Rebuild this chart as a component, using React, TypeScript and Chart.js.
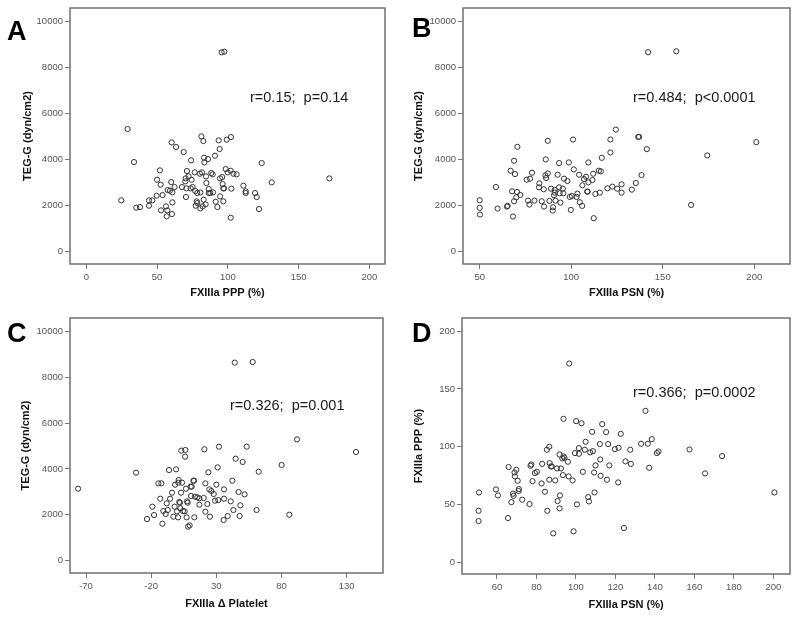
import React, { useEffect, useRef } from "react";
import { Chart, registerables } from "chart.js";

Chart.register(...registerables);

// ---------- Panel A: FXIIIa PPP (%) vs TEG-G ----------
const aPPP = [95.6, 97.5, 29.2, 33.7, 24.7, 35.3, 37.9, 44.3, 44.3, 46.6,
  49.7, 50, 52, 52.5, 53.9, 52.8, 56.3, 57.2, 56.8, 57.5,
  59.1, 60, 60.3, 60.8, 60.8, 60.5, 62.4, 63.4, 67.6, 68.8,
  70.2, 70, 70.4, 70.7, 71.1, 72.3, 73.7, 74, 74.4, 75.1,
  76.6, 77, 77.3, 78, 78.4, 78.4, 80.3, 80.6, 80.6, 81.3,
  81.7, 82.2, 82.7, 82.9, 83.2, 83.4, 84.6, 84.3, 84.8, 86,
  86.5, 86.5, 87.6, 88.3, 89.3, 89.5, 90.9, 91.4, 92.6, 93.5,
  94.2, 94.5, 94.5, 96, 96.3, 96.8, 96.8, 97.3, 98.5, 99.2,
  99.9, 102.2, 102, 102.5, 102, 103.9, 106.2, 111, 112.6, 112.6,
  119.2, 120.4, 122, 123.9, 131, 171.7];
const aTEG = [8640, 8670, 5311, 3878, 2214, 1896, 1925, 1983, 2214, 2214,
  2417, 3111, 3517, 2894, 2446, 1780, 1954, 1780, 1520, 2663,
  2634, 3010, 4732, 2561, 2127, 1621, 2793, 4530, 2793, 4313,
  3169, 3039, 2359, 2735, 3488, 3256, 2735, 3951, 3111, 2793,
  3430, 2619, 1983, 2171, 2533, 2098, 3372, 2561, 1867, 4993,
  3430, 1954, 4790, 2243, 4067, 3864, 3256, 2040, 2967, 4009,
  2706, 2533, 2533, 3401, 3343, 2561, 4153, 2156, 1925, 4819,
  4443, 2388, 3169, 3227, 2923, 2735, 2171, 2735, 3574, 4848,
  3430, 4964, 3502, 2721, 1462, 3372, 3343, 2851, 2605, 2533,
  2533, 2359, 1838, 3835, 2996, 3169];

// ---------- Panel B: FXIIIa PSN (%) vs TEG-G ----------
const bPSN = [50, 50, 50.2, 58.9, 59.8, 64.9, 65.3, 66.9, 67.7, 68.2,
  68.8, 68.8, 69.3, 70.4, 70.6, 70, 72.2, 75.7, 76.4, 77.2,
  77.5, 78.6, 79.9, 82.6, 82.4, 83.9, 85, 85.2, 85.9, 86.1,
  86.3, 87.2, 87.2, 88.1, 89, 90.1, 89.9, 90.6, 91, 91,
  91.4, 92.6, 93.4, 93.4, 93.7, 94.1, 95.4, 95.7, 96.1, 97.9,
  98.7, 99.2, 99.8, 100.3, 101, 101.4, 102.9, 103.4, 104.3, 104.7,
  106, 106.1, 107, 108.1, 108.7, 109, 109.4, 109.4, 111.6, 112,
  112.3, 113.2, 115.1, 115.6, 116.2, 116.7, 119.8, 121.4, 121.4, 122.5,
  124.4, 125.1, 127.5, 127.5, 133.1, 135.3, 136.6, 137.1, 138.4, 141.3,
  142, 157.4, 165.5, 174.3, 201.1];
const bTEG = [2219, 1888, 1599, 2795, 1859, 1945, 1974, 3501, 2608, 1513,
  3934, 2176, 3357, 2579, 4539, 2349, 2450, 3112, 2205, 2032,
  3156, 3415, 2205, 2954, 2781, 2176, 2695, 1945, 3300, 3991,
  3184, 3386, 4798, 2190, 2723, 1916, 1772, 2435, 2666, 2550,
  2205, 3329, 3833, 2781, 2522, 2118, 2723, 2522, 3156, 3055,
  3862, 2363, 1801, 2406, 4856, 3559, 2363, 2507, 3329, 2133,
  1974, 2867, 3141, 3242, 2594, 2594, 3862, 2997, 3098, 3372,
  1441, 2493, 3501, 2550, 3473, 4063, 2738, 4856, 4294, 2810,
  5288, 2723, 2550, 2911, 2680, 2968, 4971, 4971, 3314, 4438,
  8646, 8689, 2017, 4164, 4741];

// ---------- Panel C: FXIIIa Δ Platelet vs TEG-G ----------
const cDelta = [-76.1, -31.6, -23.2, -17.8, -19.1, -14.5, -12.2, -13, -11.4, -10.7,
  -8.9, -7.3, -8.1, -6.3, -5.5, -4, -3, -2, -1.7, -0.9,
  -0.2, 0.6, 0.8, 1.1, 1.6, 2.1, 2.4, 2.9, 3.1, 3.7,
  4.4, 5.7, 6, 6.2, 6.7, 7.2, 7.5, 8, 8.3, 9.5,
  10.3, 10.6, 11.1, 12.4, 12.9, 13.1, 13.6, 15.4, 17, 17,
  20.3, 20.8, 21.6, 21.6, 23.1, 23.9, 24.6, 25.1, 26.2, 28,
  29, 30, 31, 31.5, 32, 35.6, 35.9, 35.9, 38.7, 41,
  42.3, 43.1, 44.1, 44.8, 47.1, 47.9, 48.4, 50.2, 51.7, 53.3,
  57.9, 60.9, 62.5, 80.1, 86, 91.9, 137.2];
const cTEG = [3140, 3837, 1817, 1991, 2355, 3372, 3372, 2703, 1613, 2166,
  2035, 2209, 2500, 3953, 2703, 2965, 1919, 2355, 3314, 3983,
  2151, 1890, 3401, 3517, 2558, 2529, 2282, 2965, 4797, 3401,
  2166, 2151, 4535, 4826, 3140, 1890, 2587, 2529, 1483, 1541,
  3227, 2820, 3227, 3488, 3488, 1890, 2791, 2762, 2718, 2442,
  2733, 4855, 3372, 2137, 2471, 3852, 3110, 1919, 3038, 2907,
  2616, 3314, 4070, 2645, 4971, 1773, 2703, 3110, 1948, 2587,
  3488, 2209, 8634, 4448, 2994, 1948, 2413, 4302, 2892, 4971,
  8663, 2209, 3881, 4172, 2006, 5291, 4738];

// ---------- Panel D: FXIIIa PSN (%) vs FXIIIa PPP (%) ----------
const dPSN = [50.9, 50.7, 50.7, 59.5, 60.5, 65.6, 65.9, 67.3, 68.1, 68.4,
  68.9, 69.1, 69.8, 70.5, 71, 71.1, 72.8, 76.5, 77, 77.4,
  78, 79.2, 80.2, 82.6, 82.9, 84.3, 85.3, 85.5, 86.5, 86.5,
  86.7, 87.3, 87.8, 88.5, 89.5, 90.4, 90.7, 91.7, 91.9, 91.7,
  92.4, 93.1, 93.4, 93.7, 93.7, 94.2, 95.9, 96.3, 96.6, 98.3,
  98.8, 99.5, 100.1, 100.5, 101.5, 101.5, 102.8, 103.5, 104.5, 104.9,
  106.2, 106.6, 107.2, 108.2, 108.6, 109.2, 109.4, 109.9, 112.1, 112.3,
  112.5, 113.3, 115.3, 115.7, 116.3, 116.9, 119.7, 121.6, 121.4, 122.7,
  124.3, 125.1, 127.5, 127.8, 133, 135.2, 136.4, 137.1, 138.4, 141,
  141.8, 157.5, 165.4, 174, 200.5];
const dPPP = [60.3, 44.4, 35.5, 62.9, 57.7, 38.1, 82.3, 51.9, 59.2, 57.4,
  77.6, 74.2, 79.9, 70.4, 61.5, 63.2, 54, 50.2, 83.4, 84.6,
  70.1, 77.1, 78.2, 68.1, 85.1, 60.9, 97.3, 44.4, 99.9, 71.3,
  85.7, 82.8, 82.8, 24.8, 70.7, 81.1, 52.8, 93.2, 57.7, 46.5,
  81.1, 89.8, 75.3, 124.1, 91.5, 90.3, 86.9, 74.2, 172, 70.7,
  26.6, 94.4, 122.1, 49.9, 98.7, 93.8, 120.3, 78.2, 97.3, 104.2,
  56.3, 52.5, 95, 112.8, 96.1, 77.6, 60.3, 83.7, 102.2, 88.9,
  74.7, 119.5, 112.6, 71.3, 102.2, 83.7, 97.8, 99, 69, 111.1,
  29.4, 87.2, 97.3, 85.1, 102.5, 131, 102.5, 81.7, 106.5, 94.4,
  95.8, 97.5, 76.8, 91.8, 60.3];

// ---------- Tick labels ----------
const tegTicks = [0, 2000, 4000, 6000, 8000, 10000];
const aXTicks = [0, 50, 100, 150, 200];
const bXTicks = [50, 100, 150, 200];
const cXTicks = [-70, -20, 30, 80, 130];
const dXTicks = [60, 80, 100, 120, 140, 160, 180, 200];
const dYTicks = [0, 50, 100, 150, 200];

const FONT = '"Liberation Sans", Arial, sans-serif';

type PanelCfg = {
  letter: string; xs: number[]; ys: number[];
  xTitle: string; yTitle: string; xTicks: number[]; yTicks: number[];
  xMin: number; xMax: number; yMin: number; yMax: number; stat: string;
  left: number; top: number; w: number; h: number;
  yAxisW: number; xAxisH: number; padR: number; padT: number;
  yTitlePad: number; xTitlePad: number;
  statX: number; statY: number; letterX: number; letterY: number;
};

const panels: PanelCfg[] = [
  { letter: "A", xs: aPPP, ys: aTEG, xTitle: "FXIIIa PPP (%)", yTitle: "TEG-G (dyn/cm2)",
    xTicks: aXTicks, yTicks: tegTicks, xMin: -11.5, xMax: 211, yMin: -548, yMax: 10566,
    stat: "r=0.15;  p=0.14", left: 0, top: 0, w: 400, h: 310,
    yAxisW: 70, xAxisH: 46, padR: 15, padT: 8, yTitlePad: 21.4, xTitlePad: 10.4,
    statX: 250, statY: 102, letterX: 7, letterY: 40 },
  { letter: "B", xs: bPSN, ys: bTEG, xTitle: "FXIIIa PSN (%)", yTitle: "TEG-G (dyn/cm2)",
    xTicks: bXTicks, yTicks: tegTicks, xMin: 40.9, xMax: 219.5, yMin: -548, yMax: 10566,
    stat: "r=0.484;  p<0.0001", left: 400, top: 0, w: 400, h: 310,
    yAxisW: 63, xAxisH: 46, padR: 10, padT: 8, yTitlePad: 12.4, xTitlePad: 10.4,
    statX: 233, statY: 102, letterX: 12, letterY: 37 },
  { letter: "C", xs: cDelta, ys: cTEG, xTitle: "FXIIIa Δ Platelet", yTitle: "TEG-G (dyn/cm2)",
    xTicks: cXTicks, yTicks: tegTicks, xMin: -82.3, xMax: 157.9, yMin: -536, yMax: 10580,
    stat: "r=0.326;  p=0.001", left: 0, top: 310, w: 400, h: 315,
    yAxisW: 70, xAxisH: 52, padR: 17, padT: 8, yTitlePad: 19.4, xTitlePad: 14.4,
    statX: 230, statY: 100, letterX: 7, letterY: 32 },
  { letter: "D", xs: dPSN, ys: dPPP, xTitle: "FXIIIa PSN (%)", yTitle: "FXIIIa PPP (%)",
    xTicks: dXTicks, yTicks: dYTicks, xMin: 42.3, xMax: 208.4, yMin: -10.4, yMax: 211.5,
    stat: "r=0.366;  p=0.0002", left: 400, top: 310, w: 400, h: 315,
    yAxisW: 62, xAxisH: 51, padR: 10, padT: 8, yTitlePad: 12.4, xTitlePad: 13.4,
    statX: 233, statY: 87, letterX: 12, letterY: 32 },
];

function Panel({ cfg }: { cfg: PanelCfg }) {
  const ref = useRef<HTMLCanvasElement | null>(null);
  useEffect(() => {
    if (!ref.current) return;
    const decor = {
      id: "decor",
      afterDraw(chart: any) {
        const { ctx, chartArea: ca } = chart;
        ctx.save();
        ctx.strokeStyle = "#707070";
        ctx.lineWidth = 1.5;
        ctx.strokeRect(ca.left, ca.top, ca.right - ca.left, ca.bottom - ca.top);
        ctx.fillStyle = "#1a1a1a";
        ctx.font = `14.5px ${FONT}`;
        ctx.textBaseline = "alphabetic";
        ctx.textAlign = "left";
        ctx.fillText(cfg.stat, cfg.statX, cfg.statY);
        ctx.fillStyle = "#000";
        ctx.font = `bold 27px ${FONT}`;
        ctx.fillText(cfg.letter, cfg.letterX, cfg.letterY);
        ctx.restore();
      },
    };
    const tickFont = { family: FONT, size: 9.5 };
    const titleFont = { family: FONT, size: 11, weight: "bold" as const };
    const chart = new Chart(ref.current, {
      type: "scatter",
      data: {
        datasets: [{
          data: cfg.xs.map((x, i) => ({ x, y: cfg.ys[i] })),
          pointRadius: 2.6,
          pointHoverRadius: 2.6,
          pointBorderWidth: 1,
          pointBorderColor: "#333",
          pointBackgroundColor: "rgba(255,255,255,0)",
          showLine: false,
        }],
      },
      options: {
        responsive: false,
        animation: false,
        layout: { padding: { top: cfg.padT, right: cfg.padR, left: 0, bottom: 0 } },
        plugins: { legend: { display: false }, tooltip: { enabled: false } },
        scales: {
          x: {
            type: "linear",
            min: cfg.xMin, max: cfg.xMax,
            afterBuildTicks: (s: any) => { s.ticks = cfg.xTicks.map((v) => ({ value: v })); },
            afterFit: (s: any) => { s.height = cfg.xAxisH; },
            grid: { drawOnChartArea: false, drawTicks: true, tickLength: 5, color: "#777", lineWidth: 1 },
            border: { display: false },
            ticks: { font: tickFont, color: "#555", padding: 3, maxRotation: 0, autoSkip: false,
              callback: (v: any) => String(v) },
            title: { display: true, text: cfg.xTitle, font: titleFont, color: "#111",
              padding: { top: 0, bottom: cfg.xTitlePad } },
          },
          y: {
            type: "linear",
            min: cfg.yMin, max: cfg.yMax,
            afterBuildTicks: (s: any) => { s.ticks = cfg.yTicks.map((v) => ({ value: v })); },
            afterFit: (s: any) => { s.width = cfg.yAxisW; },
            grid: { drawOnChartArea: false, drawTicks: true, tickLength: 5, color: "#777", lineWidth: 1 },
            border: { display: false },
            ticks: { font: tickFont, color: "#555", padding: 2, autoSkip: false,
              callback: (v: any) => String(v) },
            title: { display: true, text: cfg.yTitle, font: titleFont, color: "#111",
              padding: { top: cfg.yTitlePad, bottom: 0 } },
          },
        },
      },
      plugins: [decor],
    });
    return () => chart.destroy();
  }, [cfg]);
  return (
    <canvas
      ref={ref}
      width={cfg.w}
      height={cfg.h}
      style={{ position: "absolute", left: cfg.left, top: cfg.top, width: cfg.w, height: cfg.h }}
    />
  );
}

export default function App() {
  return (
    <div style={{ position: "absolute", left: 0, top: 0, width: 800, height: 625, background: "#fff" }}>
      {panels.map((p) => <Panel key={p.letter} cfg={p} />)}
    </div>
  );
}
